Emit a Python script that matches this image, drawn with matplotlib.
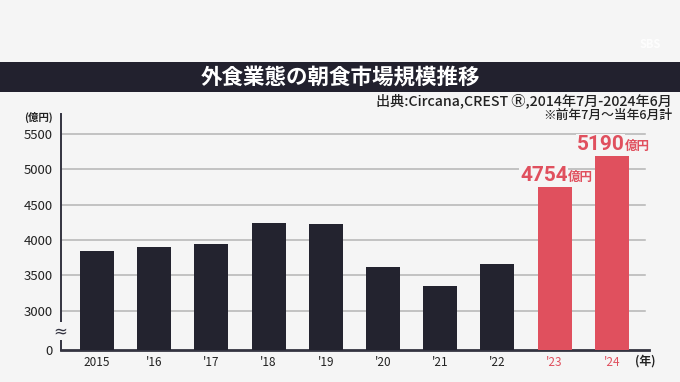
import numpy as np
import matplotlib
matplotlib.use("Agg")
import matplotlib.pyplot as plt
from matplotlib.patches import Rectangle

plt.rcParams['font.family'] = ['Noto Sans CJK JP', 'DejaVu Sans']

years = ['2015', "'16", "'17", "'18", "'19", "'20", "'21", "'22", "'23", "'24"]
sales = [3840, 3900, 3950, 4240, 4230, 3620, 3350, 3660, 4754, 5190]
highlight = [False] * 8 + [True] * 2
yticks = [3000, 3500, 4000, 4500, 5000, 5500]

# axis is broken between 0 and 3000
offset = 2443

bg = '#f5f5f5'
navy = '#23232f'
red = '#e0505e'

fig = plt.figure(figsize=(6.8, 3.82), dpi=100, facecolor=bg)

# title band
fig.patches.append(Rectangle((0, 290 / 382), 1, 30 / 382, transform=fig.transFigure,
                             facecolor='#22212e', edgecolor='none', zorder=0))
fig.text(0.5, 1 - 77 / 382, '外食業態の朝食市場規模推移', ha='center', va='center',
         color='white', fontsize=15.5, fontweight='bold')
fig.text(672 / 680, 1 - 101 / 382, '出典:Circana,CREST Ⓡ,2014年7月-2024年6月', ha='right',
         va='center', color='#222222', fontsize=10.2, fontweight='medium')
fig.text(672 / 680, 1 - 115 / 382, '※前年7月～当年6月計', ha='right', va='center',
         color='#222222', fontsize=9.2, fontweight='medium')
fig.text(650 / 680, 1 - 44 / 382, 'SBS', ha='center', va='center', color='white',
         fontsize=8, fontweight='bold', alpha=0.9)

ax = fig.add_axes([61 / 680, 32 / 382, 588 / 680, 236 / 382])
ax.set_facecolor(bg)

x = np.arange(len(years))
heights = [v - offset for v in sales]
colors = [red if h else navy for h in highlight]
ax.bar(x, heights, width=0.594, color=colors, zorder=3)

ax.set_xlim(-0.629, 9.65)
ax.set_ylim(0, 3343)

for t in yticks:
    ax.axhline(t - offset, xmin=0, xmax=(645 - 61) / 588, color='#b4b4b4', lw=1.1, zorder=1)

ax.set_yticks([0] + [t - offset for t in yticks])
ax.set_yticklabels(['0'] + [str(t) for t in yticks], fontsize=9.5, color='#222222')
ax.set_xticks(x)
ax.set_xticklabels(years, fontsize=8.5)
for lab, h in zip(ax.get_xticklabels(), highlight):
    lab.set_color(red if h else '#222222')
ax.tick_params(axis='both', length=0)
ax.tick_params(axis='y', pad=6)
ax.tick_params(axis='x', pad=4)

for s in ['top', 'right']:
    ax.spines[s].set_visible(False)
ax.spines['left'].set_color('#333340')
ax.spines['left'].set_linewidth(1.4)
ax.spines['bottom'].set_color('#333340')
ax.spines['bottom'].set_linewidth(2)

fig.text(38 / 680, 1 - 117 / 382, '(億円)', ha='center', va='center', fontsize=7.5,
         fontweight='bold', color='#222222')
fig.text(645 / 680, 1 - 361 / 382, '(年)', ha='center', va='center', fontsize=8.5,
         fontweight='bold', color='#222222')
fig.text(60 / 680, 1 - 331 / 382, '≈', ha='center', va='center', fontsize=12,
         color='#333340', family=['DejaVu Sans'],
         bbox=dict(facecolor=bg, edgecolor='none', pad=0.3))

# value labels on highlighted bars
for i, (v, h) in enumerate(zip(sales, highlight)):
    if not h:
        continue
    ax.annotate(str(v), xy=(i, v - offset), xytext=(9.4, 4.5), textcoords='offset points',
                ha='right', va='baseline', fontsize=15, fontweight='bold', color=red,
                family=['Roboto', 'DejaVu Sans'], zorder=5,
                bbox=dict(facecolor=bg, edgecolor='none', pad=0.5))
    ax.annotate('億円', xy=(i, v - offset), xytext=(9.4, 4.5), textcoords='offset points',
                ha='left', va='baseline', fontsize=9, fontweight='bold', color=red, zorder=5,
                bbox=dict(facecolor=bg, edgecolor='none', pad=0.5))

fig.savefig('out.png', dpi=100, facecolor=bg)
